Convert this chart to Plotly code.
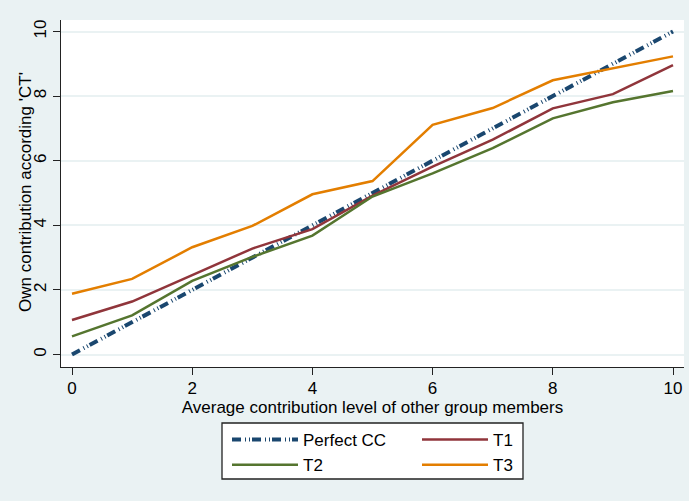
import plotly.graph_objects as go

x_levels = [0, 1, 2, 3, 4, 5, 6, 7, 8, 9, 10]
perfect_cc = [0, 1, 2, 3, 4, 5, 6, 7, 8, 9, 10]
t1 = [1.07, 1.64, 2.46, 3.28, 3.88, 4.92, 5.82, 6.65, 7.62, 8.06, 8.96]
t2 = [0.56, 1.21, 2.28, 3.02, 3.68, 4.89, 5.61, 6.39, 7.31, 7.81, 8.16]
t3 = [1.88, 2.34, 3.32, 3.98, 4.96, 5.37, 7.11, 7.63, 8.49, 8.86, 9.23]
x_ticks = [0, 2, 4, 6, 8, 10]
y_ticks = [0, 2, 4, 6, 8, 10]

NAVY = "#1a476f"
MAROON = "#90353b"
GREEN = "#55752f"
ORANGE = "#e37e00"
BG = "#eaf2f3"
FONT = "Liberation Sans, Arial, sans-serif"

fig = go.Figure()
fig.add_trace(go.Scatter(x=x_levels, y=perfect_cc, mode="lines", name="Perfect CC",
                         line=dict(color=NAVY, width=4, dash="9px,4px,1px,3px,1px,2px"),
                         legend="legend"))
fig.add_trace(go.Scatter(x=x_levels, y=t1, mode="lines", name="T1",
                         line=dict(color=MAROON, width=2.5), legend="legend2"))
fig.add_trace(go.Scatter(x=x_levels, y=t2, mode="lines", name="T2",
                         line=dict(color=GREEN, width=2.5), legend="legend"))
fig.add_trace(go.Scatter(x=x_levels, y=t3, mode="lines", name="T3",
                         line=dict(color=ORANGE, width=2.5), legend="legend2"))

W, H = 689, 501
ml, mr, mt, mb = 61, 5, 20, 134
pw, ph = W - ml - mr, H - mt - mb

def px2x(p):
    return (p - ml) / pw

def px2y(p):
    return (H - mb - p) / ph

legend_common = dict(bgcolor="rgba(0,0,0,0)", borderwidth=0, font=dict(size=17, color="black", family=FONT),
                     orientation="v", xanchor="left", yanchor="top", itemwidth=66, tracegroupgap=0)

fig.update_layout(
    width=W, height=H,
    margin=dict(l=ml, r=mr, t=mt, b=mb, autoexpand=False),
    paper_bgcolor=BG, plot_bgcolor="white",
    font=dict(family=FONT, size=17, color="black"),
    showlegend=True,
    legend=dict(x=px2x(227), y=px2y(422), **legend_common),
    legend2=dict(x=px2x(417), y=px2y(422), **legend_common),
    shapes=[dict(type="rect", xref="paper", yref="paper",
                 x0=px2x(222), x1=px2x(523), y0=px2y(423), y1=px2y(479),
                 line=dict(color="#222222", width=1.3), fillcolor="white", layer="above")],
    annotations=[dict(text="Own contribution according 'CT'", xref="paper", yref="paper",
                      x=px2x(25), y=px2y(192), xanchor="center", yanchor="middle",
                      textangle=-90, showarrow=False, font=dict(size=17, color="black"))],
    xaxis=dict(range=[-0.183, 10.183], tickvals=x_ticks, ticks="outside", ticklen=7, tickwidth=1.2,
               tickcolor="#222222", showline=True, linecolor="#222222", linewidth=1.3,
               showgrid=False, zeroline=False, tickfont=dict(size=17), ticklabelstandoff=-2,
               title=dict(text="Average contribution level of other group members", standoff=2,
                          font=dict(size=17))),
    yaxis=dict(range=[-0.387, 10.356], tickvals=y_ticks, ticks="outside", ticklen=7, tickwidth=1.2,
               tickcolor="#222222", showline=True, linecolor="#222222", linewidth=1.3,
               showgrid=True, gridcolor=BG, gridwidth=1.5, zeroline=False, tickangle=-90,
               tickfont=dict(size=17)),
)

fig.write_html("out.html", config={"displayModeBar": False},
               post_script="document.body.style.margin='0px';")
